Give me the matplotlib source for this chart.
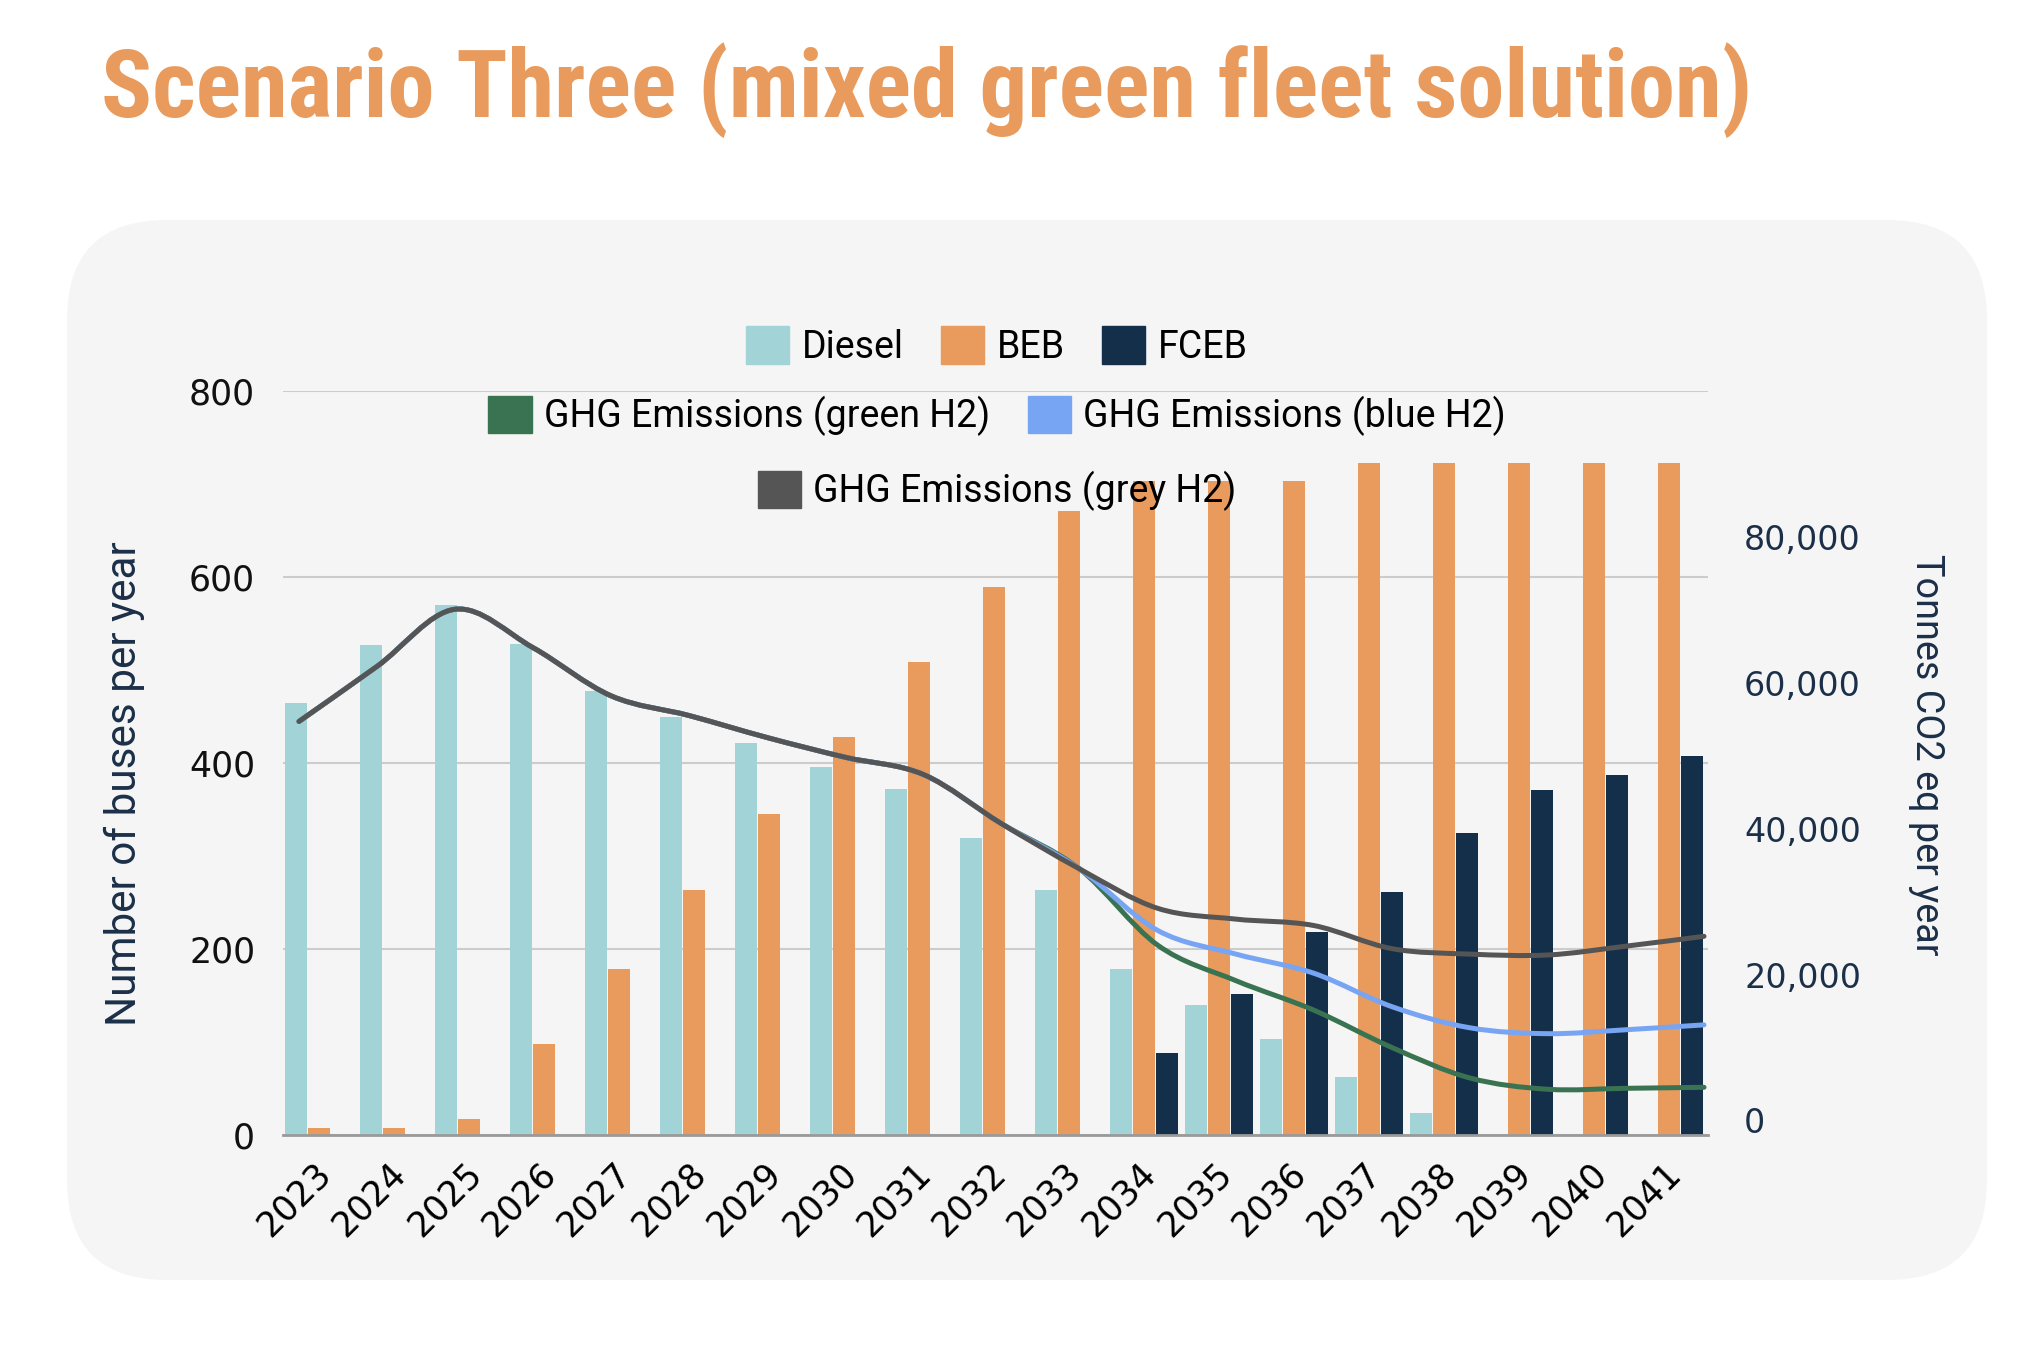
import numpy as np
import matplotlib
matplotlib.use('Agg')
import matplotlib.pyplot as plt
from matplotlib.patches import Patch, FancyBboxPatch, PathPatch
from matplotlib.path import Path
from matplotlib.transforms import ScaledTranslation
from matplotlib.ticker import FuncFormatter

# data
years = [str(y) for y in range(2023, 2042)]
diesel = [465, 527, 570, 528, 477, 450, 422, 396, 372, 319, 263, 179, 140, 103, 62, 24, 0, 0, 0]
beb = [7, 7, 17, 98, 179, 263, 345, 428, 509, 589, 671, 703, 703, 703, 723, 723, 723, 723, 723]
fceb = [0, 0, 0, 0, 0, 0, 0, 0, 0, 0, 0, 88, 152, 218, 261, 325, 371, 387, 407]

ghg_green = [54700, 62250, 70080, 64800, 58200, 55500, 52480, 49780, 47420, 40680, 34480,
             24030, 19170, 15120, 10000, 5820, 4270, 4400, 4540]
ghg_blue = [54700, 62250, 70080, 64800, 58200, 55500, 52480, 49780, 47420, 40680, 34480,
            26050, 22810, 20180, 15600, 12700, 11890, 12430, 13100]
ghg_grey = [54700, 62250, 70080, 64800, 58200, 55500, 52480, 49780, 47420, 40680, 34480,
            29080, 27600, 26720, 23550, 22800, 22680, 23890, 25240]

c_diesel = '#A2D4D7'
c_beb = '#E89B5C'
c_fceb = '#142F49'
c_green = '#3A7352'
c_blue = '#78A5F3'
c_grey = '#555555'
navy = '#1B3048'


def smooth_path(xs, ys):
    # catmull-rom style bezier through the points (like a "function" curve)
    pts = np.column_stack([xs, ys]).astype(float)
    ext = np.vstack([pts[0], pts, pts[-1]])
    verts = [pts[0]]
    codes = [Path.MOVETO]
    for i in range(len(pts) - 1):
        p0, p1, p2, p3 = ext[i], ext[i + 1], ext[i + 2], ext[i + 3]
        verts += [p1 + (p2 - p0) / 6., p2 - (p3 - p1) / 6., p2]
        codes += [Path.CURVE4] * 3
    return Path(verts, codes)


def fit_text(t, target_px, along='width'):
    fig.canvas.draw()
    bb = t.get_window_extent()
    size = bb.width if along == 'width' else bb.height
    t.set_fontsize(t.get_fontsize() * target_px / size)


fig = plt.figure(figsize=(20.32, 13.5), dpi=100)

panel = FancyBboxPatch((0.67, 0.70), 19.20, 10.60, boxstyle='round,pad=0,rounding_size=1.0',
                       transform=fig.dpi_scale_trans, facecolor='#F5F5F5', edgecolor='none', zorder=-5)
fig.patches.append(panel)

rect = [283 / 2032, 1 - 1135 / 1350, 1425 / 2032, 744 / 1350]
ax = fig.add_axes(rect)
ax.set_facecolor('none')

x = np.arange(len(years))
w = 0.295
ax.bar(x - 0.31, diesel, w, color=c_diesel, zorder=2)
ax.bar(x, beb, w, color=c_beb, zorder=2)
ax.bar(x + 0.31, fceb, w, color=c_fceb, zorder=2)

ax.set_xlim(-0.48, 18.52)
ax.set_ylim(0, 800)
ax.set_yticks(range(0, 801, 200))
ax.yaxis.grid(True, color='#CCCCCC', lw=1.5)
ax.set_axisbelow(True)
for s in ['top', 'right', 'left']:
    ax.spines[s].set_visible(False)
ax.spines['bottom'].set_color('#9A9A9A')
ax.spines['bottom'].set_linewidth(2)
ax.spines['bottom'].set_zorder(3)
ax.tick_params(axis='y', length=0, pad=20, labelsize=25, labelcolor='#111111')
ax.tick_params(axis='x', length=0, pad=24, labelsize=25)
ax.set_xticks(x)
ax.set_xticklabels(years, rotation=45, ha='right', va='center', rotation_mode='anchor')
offset = ScaledTranslation(0.07, 0, fig.dpi_scale_trans)
for lab in ax.get_xticklabels():
    lab.set_transform(lab.get_transform() + offset)
for lab in ax.get_xticklabels() + ax.get_yticklabels():
    lab.set_family('DejaVu Sans')

# emissions on a second (right) axis
ax2 = fig.add_axes(rect, frameon=False)
ax2.set_facecolor('none')
ax2.set_xlim(-0.205, 18.051)
ax2.set_ylim(-2000, 100000)
ax2.set_xticks([])
ax2.yaxis.tick_right()
ax2.set_yticks(range(0, 80001, 20000))
ax2.yaxis.set_major_formatter(FuncFormatter(lambda v, p: f'{int(v):,}'))
ax2.tick_params(axis='y', which='both', length=0, pad=26, labelsize=24, labelcolor=navy)
for lab in ax2.get_yticklabels():
    lab.set_family('DejaVu Sans')

for series, col in [(ghg_green, c_green), (ghg_blue, c_blue), (ghg_grey, c_grey)]:
    ax2.add_patch(PathPatch(smooth_path(x, series), facecolor='none', edgecolor=col,
                            lw=3.6, capstyle='round', joinstyle='round'))

# axis titles
ylab_l = fig.text(124 / 2032, 1 - 784 / 1350, 'Number of buses per year', rotation=90,
                  ha='center', va='center', fontsize=28, color=navy, family='Roboto')
ylab_r = fig.text(1926 / 2032, 1 - 755 / 1350, 'Tonnes CO2 eq per year', rotation=270,
                  ha='center', va='center', fontsize=28, color=navy, family='Roboto')

# legends
leg_kw = dict(loc='center', frameon=False, prop={'family': 'Roboto', 'size': 27},
              handlelength=1.15, handleheight=1.15, handletextpad=0.33, columnspacing=1.0)
fig.legend([Patch(color=c_diesel), Patch(color=c_beb), Patch(color=c_fceb)],
           ['Diesel', 'BEB', 'FCEB'], ncol=3, bbox_to_anchor=(997 / 2032, 1 - 346 / 1350), **leg_kw)
fig.legend([Patch(color=c_green), Patch(color=c_blue)],
           ['GHG Emissions (green H2)', 'GHG Emissions (blue H2)'], ncol=2,
           bbox_to_anchor=(997 / 2032, 1 - 416 / 1350), **leg_kw)
fig.legend([Patch(color=c_grey)], ['GHG Emissions (grey H2)'], ncol=1,
           bbox_to_anchor=(997 / 2032, 1 - 491 / 1350), **leg_kw)

# title
title = fig.text(101 / 2032, 1 - 117 / 1350, 'Scenario Three (mixed green fleet solution)',
                 fontsize=64, fontweight='bold', color=c_beb, family=['Roboto Condensed', 'Roboto'],
                 ha='left', va='baseline')

# scale some texts to the size they have in the original
fit_text(title, 1651, 'width')
fit_text(ylab_l, 483, 'height')
fit_text(ylab_r, 400, 'height')

fig.savefig('out.png', dpi=100, facecolor='white')
